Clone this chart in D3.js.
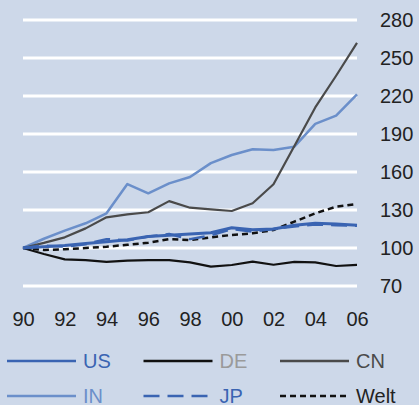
<!DOCTYPE html>
<meta charset="utf-8">
<style>
  body { margin: 0; background: #cdd8e9; }
  svg text { font-family: "Liberation Sans", Arial, sans-serif; }
</style>
<svg width="419" height="405"></svg>
<script src="https://cdn.jsdelivr.net/npm/d3@7"></script>
<script>
// index values, 1990 = 100
var years = [1990, 1991, 1992, 1993, 1994, 1995, 1996, 1997, 1998, 1999, 2000, 2001, 2002, 2003, 2004, 2005, 2006];
var us   = [100, 101, 102, 103.5, 105, 106.5, 109, 110, 111, 112, 116, 114.5, 115, 118, 119.5, 119, 118];
var de   = [100, 95.3, 91, 90.5, 89, 90, 90.5, 90.5, 88.7, 85.3, 86.6, 89.2, 86.8, 89, 88.7, 85.8, 86.6];
var cn   = [100, 104, 108.4, 115.5, 124.2, 126.6, 128.2, 137, 131.8, 130.5, 129.2, 135.3, 150.3, 180.5, 211, 236, 262];
var inn  = [100, 107.3, 113.7, 119.5, 127.4, 150.5, 143.2, 151, 156, 167, 173.4, 178, 177.4, 180, 198, 204.5, 221.3];
var jp   = [100, 102, 101, 103, 107, 106, 109, 111, 107, 110, 115, 113, 115, 117, 118.5, 118, 117.5];
var welt = [100, 98.5, 99, 100, 101, 102.5, 104.2, 107, 106.3, 108.4, 110.3, 111.6, 114.2, 120.8, 127.4, 132.6, 134.7];
var yTicks = [70, 100, 130, 160, 190, 220, 250, 280];
var xTickYears = [1990, 1992, 1994, 1996, 1998, 2000, 2002, 2004, 2006];

var series = [
  {name: "IN",   values: inn,  color: "#6b8fca", width: 2.5, dash: null,   text: "#6b8fca"},
  {name: "CN",   values: cn,   color: "#4a4a4a", width: 2.2, dash: null,   text: "#4a4a4a"},
  {name: "DE",   values: de,   color: "#111111", width: 2.2, dash: null,   text: "#9a9a9a"},
  {name: "Welt", values: welt, color: "#111111", width: 2.5, dash: "6,4",  text: "#222222"},
  {name: "US",   values: us,   color: "#3a64b2", width: 3,   dash: null,   text: "#3a64b2"},
  {name: "JP",   values: jp,   color: "#3a64b2", width: 2.5, dash: "16,8", text: "#3a64b2"}
];
var legendOrder = ["US", "DE", "CN", "IN", "JP", "Welt"];

var svg = d3.select("svg");

var x = d3.scaleLinear().domain([1990, 2006]).range([23, 357]);
var y = d3.scaleLinear().domain([70, 280]).range([286, 20]);

// grid
svg.append("g")
  .selectAll("line")
  .data(yTicks)
  .enter().append("line")
  .attr("x1", x(1990)).attr("x2", x(2006))
  .attr("y1", function(d) { return y(d); })
  .attr("y2", function(d) { return y(d); })
  .attr("stroke", "#fff")
  .attr("stroke-width", 3);

// right axis labels
var yAxis = d3.axisRight(y).tickValues(yTicks).tickSize(0).tickPadding(0);
var gy = svg.append("g").attr("transform", "translate(380,0)").call(yAxis);
gy.select(".domain").remove();
gy.selectAll("text").attr("font-size", 20).attr("fill", "#222");

// bottom axis labels
var xAxis = d3.axisBottom(x).tickValues(xTickYears).tickSize(0).tickPadding(0)
  .tickFormat(function(d) { return String(d).slice(2); });
var gx = svg.append("g").attr("transform", "translate(0,312)").call(xAxis);
gx.select(".domain").remove();
gx.selectAll("text").attr("font-size", 20).attr("fill", "#222");

// lines
var line = d3.line()
  .x(function(d, i) { return x(years[i]); })
  .y(function(d) { return y(d); });

svg.append("g")
  .selectAll("path")
  .data(series)
  .enter().append("path")
  .attr("d", function(d) { return line(d.values); })
  .attr("fill", "none")
  .attr("stroke", function(d) { return d.color; })
  .attr("stroke-width", function(d) { return d.width; })
  .attr("stroke-dasharray", function(d) { return d.dash; })
  .attr("stroke-linejoin", "round");

// legend
var legend = svg.append("g");
legendOrder.forEach(function(name, i) {
  var s = series.find(function(d) { return d.name === name; });
  var lx = 7 + (i % 3) * 136.5;
  var ly = i < 3 ? 361 : 396;
  legend.append("line")
    .attr("x1", lx).attr("x2", lx + 69)
    .attr("y1", ly).attr("y2", ly)
    .attr("stroke", s.color)
    .attr("stroke-width", 2.5)
    .attr("stroke-dasharray", s.dash);
  legend.append("text")
    .attr("x", lx + 76)
    .attr("y", ly + 7)
    .attr("font-size", 20)
    .attr("fill", s.text)
    .text(name);
});
</script>
